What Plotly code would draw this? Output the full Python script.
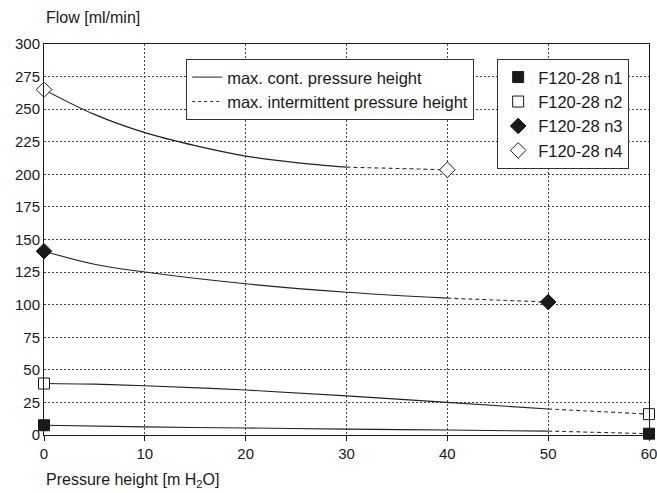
import plotly.graph_objects as go

# Data
n4_cont_x = [0, 5, 10, 15, 20, 25, 30]
n4_cont_y = [265, 246, 232, 222, 214, 209, 205.5]
n4_int_x = [30, 40]
n4_int_y = [205.5, 203.5]

n3_cont_x = [0, 5, 10, 20, 30, 40]
n3_cont_y = [141, 131, 125, 116, 109.5, 105]
n3_int_x = [40, 50]
n3_int_y = [105, 102]

n2_cont_x = [0, 5, 10, 20, 30, 40, 50]
n2_cont_y = [39.5, 39, 37.8, 34.5, 30, 25, 20]
n2_int_x = [50, 60]
n2_int_y = [20, 16]

n1_cont_x = [0, 10, 20, 30, 40, 50]
n1_cont_y = [7.5, 6.2, 5.4, 4.5, 3.8, 3]
n1_int_x = [50, 60]
n1_int_y = [3, 1]

series_names = ["F120-28 n1", "F120-28 n2", "F120-28 n3", "F120-28 n4"]
x_ticks = [0, 10, 20, 30, 40, 50, 60]
y_ticks = list(range(0, 301, 25))

FONT = "Liberation Sans, Arial, sans-serif"
INK = "#1a1a1a"
fig = go.Figure()

curves = [
    (n1_cont_x, n1_cont_y, n1_int_x, n1_int_y, "square", INK),
    (n2_cont_x, n2_cont_y, n2_int_x, n2_int_y, "square", "white"),
    (n3_cont_x, n3_cont_y, n3_int_x, n3_int_y, "diamond", INK),
    (n4_cont_x, n4_cont_y, n4_int_x, n4_int_y, "diamond", "white"),
]

for name, (cx, cy, ix, iy, sym, col) in zip(series_names, curves):
    fig.add_trace(go.Scatter(x=cx, y=cy, mode="lines", line=dict(color="#222", width=1.1, shape="spline"),
                             showlegend=False, hoverinfo="skip"))
    fig.add_trace(go.Scatter(x=ix, y=iy, mode="lines", line=dict(color="#333", width=1.1, dash="4px,3px"),
                             showlegend=False, hoverinfo="skip"))

for name, (cx, cy, ix, iy, sym, col) in zip(series_names, curves):
    size = 11 if sym == "square" else 12
    fig.add_trace(go.Scatter(x=[cx[0], ix[-1]], y=[cy[0], iy[-1]], mode="markers", name=name,
                             marker=dict(symbol=sym, size=size, color=col, line=dict(color=INK, width=1)),
                             legend="legend2", cliponaxis=False))

fig.add_trace(go.Scatter(x=[None], y=[None], mode="lines", name="max. cont. pressure height",
                         line=dict(color="#222", width=1), legend="legend"))
fig.add_trace(go.Scatter(x=[None], y=[None], mode="lines", name="max. intermittent pressure height",
                         line=dict(color="#333", width=1, dash="3px,3px"), legend="legend"))

fig.update_layout(
    width=657, height=493,
    margin=dict(l=44, r=8, t=44, b=58),
    plot_bgcolor="white", paper_bgcolor="white",
    font=dict(family=FONT, size=15, color=INK),
    legend=dict(x=0.235, y=0.962, xanchor="left", yanchor="top", bgcolor="white",
                bordercolor="#333", borderwidth=1, font=dict(size=16.5), tracegroupgap=0,
                itemwidth=30),
    legend2=dict(x=0.749, y=0.962, xanchor="left", yanchor="top", bgcolor="white",
                 bordercolor="#333", borderwidth=1, font=dict(size=16.5), itemwidth=30),
    annotations=[
        dict(text="Flow [ml/min]", x=0, xref="paper", y=1, yref="paper", xanchor="left",
             yanchor="bottom", yshift=16, showarrow=False, font=dict(size=16)),
        dict(text="Pressure height [m H<sub>2</sub>O]", x=0, xref="paper", y=0, yref="paper",
             xanchor="left", yanchor="top", yshift=-34, showarrow=False, font=dict(size=16)),
    ],
)

fig.update_xaxes(range=[0, 60], tickvals=x_ticks, showline=True, linecolor=INK, mirror=True,
                 showgrid=True, gridcolor="#444", griddash="2px,2px", gridwidth=1,
                 ticks="outside", ticklen=5, tickcolor=INK, zeroline=False, automargin=False,
                 ticklabeloverflow="allow")
fig.update_yaxes(range=[0, 300], tickvals=y_ticks, showline=True, linecolor=INK, mirror=True,
                 showgrid=True, gridcolor="#444", griddash="2px,2px", gridwidth=1,
                 ticks="", zeroline=False, automargin=False, ticklabeloverflow="allow")

fig.write_html("out.html")
